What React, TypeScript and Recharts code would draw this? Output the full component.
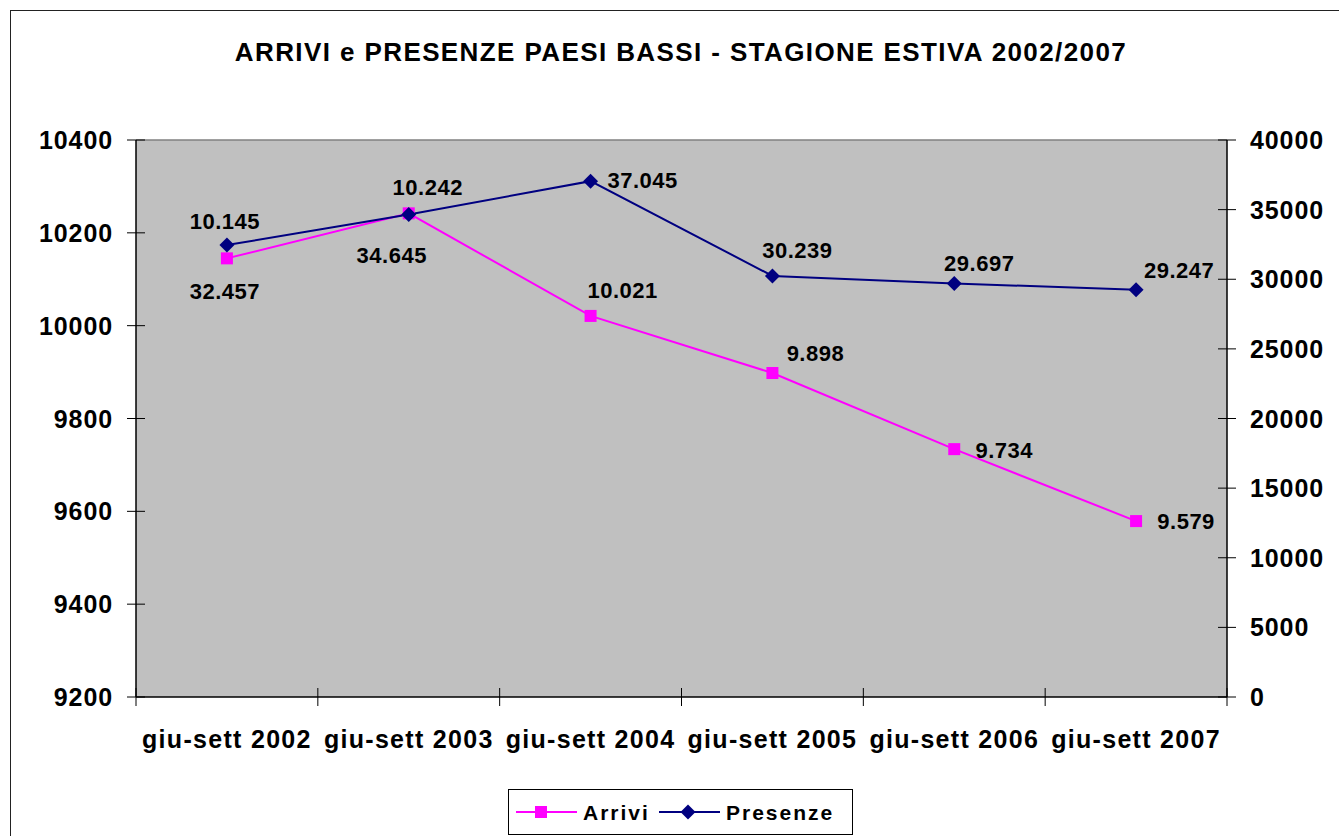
import React from 'react';
import {
  ComposedChart,
  Line,
  XAxis,
  YAxis,
  CartesianGrid,
  ReferenceLine,
  LabelList,
  Legend,
} from 'recharts';

const categories = [
  'giu-sett 2002',
  'giu-sett 2003',
  'giu-sett 2004',
  'giu-sett 2005',
  'giu-sett 2006',
  'giu-sett 2007',
];
const arrivi = [10145, 10242, 10021, 9898, 9734, 9579];
const presenze = [32457, 34645, 37045, 30239, 29697, 29247];
const leftTicks = [9200, 9400, 9600, 9800, 10000, 10200, 10400];
const rightTicks = [0, 5000, 10000, 15000, 20000, 25000, 30000, 35000, 40000];
const titleText = 'ARRIVI e PRESENZE PAESI BASSI - STAGIONE ESTIVA 2002/2007';

// label placement (dx, dy from the point), as in the original
const arriviLabelOffsets = [
  [-2, -37],
  [19, -26],
  [32, -26],
  [43, -20],
  [50, 1],
  [50, 0],
];
const presenzeLabelOffsets = [
  [-2, 46],
  [-17, 40],
  [52, -1],
  [25, -26],
  [25, -20],
  [43, -20],
];

const data = categories.map((c, i) => ({ cat: c, arrivi: arrivi[i], presenze: presenze[i] }));

const FONT = '"Liberation Sans", Arial, Helvetica, sans-serif';
const PLOT_LEFT = 136;
const PLOT_RIGHT = 1227;

const fmt = (n: number) => String(n).replace(/\B(?=(\d{3})+(?!\d))/g, '.');

const LeftTick = (props: any) => {
  const { x, y, payload } = props;
  return (
    <g>
      <line x1={x + 14} x2={x + 32} y1={y} y2={y} stroke="#000" strokeWidth={1} />
      <text
        x={x}
        y={y + 9}
        textAnchor="end"
        fontFamily={FONT}
        fontWeight="bold"
        fontSize={25}
        letterSpacing={0.9}
        fill="#000"
      >
        {payload.value}
      </text>
    </g>
  );
};

const RightTick = (props: any) => {
  const { x, y, payload } = props;
  return (
    <g>
      <line x1={x - 32} x2={x - 14} y1={y} y2={y} stroke="#000" strokeWidth={1} />
      <text
        x={x}
        y={y + 9}
        textAnchor="start"
        fontFamily={FONT}
        fontWeight="bold"
        fontSize={25}
        letterSpacing={0.9}
        fill="#000"
      >
        {payload.value}
      </text>
    </g>
  );
};

const BottomTick = (props: any) => {
  const { x, y, payload, index } = props;
  const band = (PLOT_RIGHT - PLOT_LEFT) / categories.length;
  const axisY = y - 9 - 24;
  return (
    <g>
      <line x1={x - band / 2} x2={x - band / 2} y1={axisY - 9} y2={axisY + 9} stroke="#000" />
      {index === categories.length - 1 && (
        <line x1={x + band / 2} x2={x + band / 2} y1={axisY - 9} y2={axisY + 9} stroke="#000" />
      )}
      <text
        x={x}
        y={y + 18}
        textAnchor="middle"
        fontFamily={FONT}
        fontWeight="bold"
        fontSize={25}
        letterSpacing={1.3}
        fill="#000"
      >
        {payload.value}
      </text>
    </g>
  );
};

const SquareDot = (props: any) => {
  const { cx, cy, index } = props;
  if (cx == null || cy == null) return <g key={`sq${index}`} />;
  return <rect key={`sq${index}`} x={cx - 6} y={cy - 6} width={12} height={12} fill="#FF00FF" />;
};

const DiamondDot = (props: any) => {
  const { cx, cy, index } = props;
  if (cx == null || cy == null) return <g key={`dm${index}`} />;
  const r = 7.5;
  return (
    <path
      key={`dm${index}`}
      d={`M${cx},${cy - r}L${cx + r},${cy}L${cx},${cy + r}L${cx - r},${cy}Z`}
      fill="#000080"
    />
  );
};

const makeLabel = (offsets: number[][]) => (props: any) => {
  const { x, y, index, value } = props;
  const [dx, dy] = offsets[index] || [0, 0];
  return (
    <text
      key={`lb${index}`}
      x={x + dx}
      y={y + dy + 8}
      textAnchor="middle"
      fontFamily={FONT}
      fontWeight="bold"
      fontSize={22}
      letterSpacing={0.5}
      fill="#000"
    >
      {fmt(value)}
    </text>
  );
};

const renderLegend = () => (
  <svg width={345} height={46} style={{ display: 'block' }}>
    <rect x={0.5} y={0.5} width={344} height={45} fill="#fff" stroke="#000" strokeWidth={1} />
    <line x1={8} x2={69} y1={23} y2={23} stroke="#FF00FF" strokeWidth={2} />
    <rect x={27} y={17} width={12} height={12} fill="#FF00FF" />
    <text x={75} y={30.5} fontFamily={FONT} fontWeight="bold" fontSize={21} letterSpacing={2} fill="#000">
      Arrivi
    </text>
    <line x1={151} x2={212} y1={23} y2={23} stroke="#000080" strokeWidth={2} />
    <path d="M180,15.5L187.5,23L180,30.5L172.5,23Z" fill="#000080" />
    <text x={218} y={30.5} fontFamily={FONT} fontWeight="bold" fontSize={21} letterSpacing={2} fill="#000">
      Presenze
    </text>
  </svg>
);

export default function App() {
  return (
    <div
      style={{
        position: 'absolute',
        left: 0,
        top: 0,
        width: 1339,
        height: 836,
        overflow: 'hidden',
        background: '#fff',
        fontFamily: FONT,
      }}
    >
      <div
        style={{
          position: 'absolute',
          left: 10,
          top: 10,
          width: 1400,
          height: 900,
          borderLeft: '1.5px solid #222',
          borderTop: '1.5px solid #222',
        }}
      />
      <div
        style={{
          position: 'absolute',
          left: 681 - 600,
          width: 1200,
          top: 39,
          lineHeight: '26px',
          textAlign: 'center',
          fontSize: 26,
          fontWeight: 'bold',
          letterSpacing: 1.4,
          color: '#000',
          whiteSpace: 'nowrap',
        }}
      >
        {titleText}
      </div>
      <div style={{ position: 'absolute', left: 0, top: 0 }}>
        <ComposedChart
          width={1339}
          height={836}
          data={data}
          margin={{ top: 140, right: 42, bottom: 33, left: 66 }}
        >
          <CartesianGrid fill="#C0C0C0" horizontal={false} vertical={false} />
          <ReferenceLine yAxisId="left" y={10400} stroke="#808080" strokeWidth={1.5} />
          <XAxis
            dataKey="cat"
            scale="band"
            height={60}
            axisLine={{ stroke: '#000', strokeWidth: 1.5 }}
            tickLine={false}
            tickSize={9}
            tickMargin={24}
            tick={<BottomTick />}
            interval={0}
          />
          <YAxis
            yAxisId="left"
            orientation="left"
            width={70}
            domain={[9200, 10400]}
            ticks={leftTicks}
            allowDataOverflow
            axisLine={{ stroke: '#000', strokeWidth: 1.5 }}
            tickLine={false}
            tickSize={9}
            tickMargin={14}
            tick={<LeftTick />}
            interval={0}
          />
          <YAxis
            yAxisId="right"
            orientation="right"
            width={70}
            domain={[0, 40000]}
            ticks={rightTicks}
            allowDataOverflow
            axisLine={{ stroke: '#000', strokeWidth: 1.5 }}
            tickLine={false}
            tickSize={9}
            tickMargin={14}
            tick={<RightTick />}
            interval={0}
          />
          <Legend
            verticalAlign="bottom"
            content={renderLegend}
            wrapperStyle={{ position: 'absolute', left: 508, top: 789, width: 345, height: 46, bottom: 'auto' }}
          />
          <Line
            yAxisId="left"
            dataKey="arrivi"
            name="Arrivi"
            stroke="#FF00FF"
            strokeWidth={2}
            dot={SquareDot}
            activeDot={false}
            isAnimationActive={false}
          >
            <LabelList dataKey="arrivi" content={makeLabel(arriviLabelOffsets)} />
          </Line>
          <Line
            yAxisId="right"
            dataKey="presenze"
            name="Presenze"
            stroke="#000080"
            strokeWidth={2}
            dot={DiamondDot}
            activeDot={false}
            isAnimationActive={false}
          >
            <LabelList dataKey="presenze" content={makeLabel(presenzeLabelOffsets)} />
          </Line>
        </ComposedChart>
      </div>
    </div>
  );
}
